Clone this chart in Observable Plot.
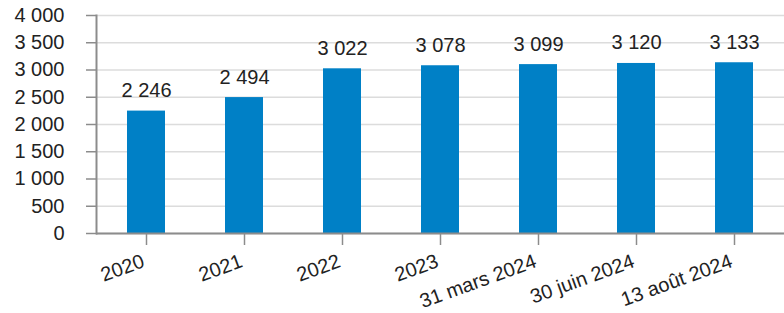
<!DOCTYPE html>
<html>
<head>
<meta charset="utf-8">
<script src="https://cdn.jsdelivr.net/npm/d3@7"></script>
<script src="https://cdn.jsdelivr.net/npm/@observablehq/plot@0.6"></script>
<style>
  html, body { margin: 0; padding: 0; background: #fff; }
  svg { font-family: "Liberation Sans", Arial, sans-serif; }
</style>
</head>
<body>
<div id="chart"></div>
<script>
const categories = ["2020", "2021", "2022", "2023", "31 mars 2024", "30 juin 2024", "13 août 2024"];
const values = [2246, 2494, 3022, 3078, 3099, 3120, 3133];
const yTicks = [0, 500, 1000, 1500, 2000, 2500, 3000, 3500, 4000];

const data = categories.map((c, i) => ({category: c, value: values[i]}));
const fr = d3.formatLocale({decimal: ",", thousands: "\u00a0", grouping: [3], currency: ["", " €"]});
const fmt = fr.format(",d");

const chart = Plot.plot({
  width: 784,
  height: 313,
  marginLeft: 96,
  marginRight: 0,
  marginTop: 15,
  marginBottom: 80,
  style: {fontFamily: "'Liberation Sans', Arial, sans-serif", fontSize: "20px", color: "#222"},
  x: {domain: categories, paddingInner: 0.61, paddingOuter: 0.305, label: null},
  y: {domain: [0, 4000], label: null},
  marks: [
    Plot.gridY(yTicks, {stroke: "#dcdcdc", strokeOpacity: 1, strokeWidth: 1.5}),
    Plot.barY(data, {x: "category", y: "value", fill: "#0080c6"}),
    Plot.text(data, {x: "category", y: "value", text: d => fmt(d.value), dy: -14, lineAnchor: "bottom", fontSize: 20, fill: "#222"}),
    Plot.axisY(yTicks, {tickSize: 10, tickPadding: 22, tickFormat: fmt, fontSize: 20, stroke: "#8c8c8c", strokeWidth: 1.5, fill: "#222", label: null}),
    Plot.axisX({tickSize: 12, tickFormat: () => "", stroke: "#8c8c8c", strokeWidth: 1.5, label: null}),
    Plot.axisX({tickSize: 0, tickPadding: 27, dx: -3, tickRotate: -20, fontSize: 20, fill: "#222", label: null}),
    Plot.frame({anchor: "left", stroke: "#8c8c8c", strokeWidth: 2}),
    Plot.ruleY([0], {stroke: "#8c8c8c", strokeWidth: 2})
  ]
});
document.getElementById("chart").appendChild(chart);
</script>
</body>
</html>
